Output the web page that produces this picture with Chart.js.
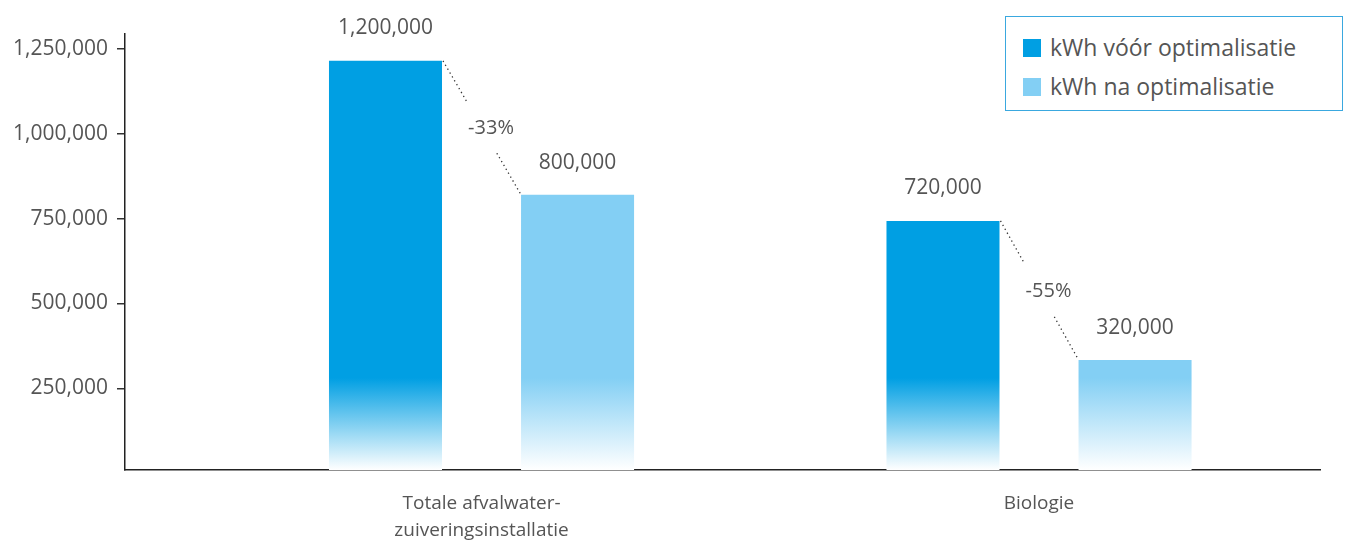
<!DOCTYPE html>
<html lang="nl">
<head>
<meta charset="UTF-8">
<title>kWh vóór en na optimalisatie</title>
<script src="https://cdn.jsdelivr.net/npm/chart.js"></script>
<style>
  body { margin: 0; background: #fff; font-family: 'Open Sans', sans-serif; }
  .wrap { position: relative; width: 1345px; height: 541px; }
  .legend {
    position: absolute; left: 1005px; top: 16px; width: 338px; height: 95px;
    box-sizing: border-box; border: 1.5px solid #3aa8df; background: #fff;
  }
  .legend .item { position: absolute; left: 17px; height: 20px; line-height: 20px; font-size: 23px; color: #555; white-space: nowrap; }
  .legend .sw { display: inline-block; width: 18px; height: 18px; vertical-align: middle; margin-right: 9px; position: relative; top: -2px; }
</style>
</head>
<body>
<div class="wrap">
  <canvas id="chart" width="1345" height="541"></canvas>
  <div class="legend" id="legend"></div>
</div>
<script>
// categorieën en waarden
const categories = [['Totale afvalwater-', 'zuiveringsinstallatie'], ['Biologie']];
const seriesNames = ['kWh vóór optimalisatie', 'kWh na optimalisatie'];
const voorValues = [1214000, 743000];
const naValues = [820000, 334000];
const voorLabels = ['1,200,000', '720,000'];
const naLabels = ['800,000', '320,000'];
const changeLabels = ['-33%', '-55%'];
const yTicks = [250000, 500000, 750000, 1000000, 1250000];

const colors = ['#009fe3', '#83cff4'];
const textColor = '#555';
const family = "'Open Sans', sans-serif";
const numFont = { family: family, size: 21 };
const catFont = { family: family, size: 19, lineHeight: 1.42 };

// onderkant van de balken loopt uit naar wit
function fade(color) {
    return (c) => {
        const a = c.chart.chartArea;
        if (!a) return color;
        const g = c.chart.ctx.createLinearGradient(0, a.bottom - 92, 0, a.bottom);
        g.addColorStop(0, color);
        g.addColorStop(1, '#ffffff');
        return g;
    };
}

// labels boven de balken en stippellijn met percentage
const annotations = {
    id: 'annotations',
    afterDatasetsDraw(chart) {
        const ctx = chart.ctx;
        const voor = chart.getDatasetMeta(0).data;
        const na = chart.getDatasetMeta(1).data;
        ctx.save();
        ctx.font = `${numFont.size}px ${family}`;
        ctx.fillStyle = textColor;
        ctx.textAlign = 'center';
        ctx.textBaseline = 'middle';
        voor.forEach((b, i) => ctx.fillText(voorLabels[i], b.x, b.y - 33));
        na.forEach((b, i) => ctx.fillText(naLabels[i], b.x, b.y - 32));

        ctx.font = `20px ${family}`;
        voor.forEach((b0, i) => {
            const b1 = na[i];
            const p = { x: b0.x + b0.width / 2 + 1, y: b0.y };
            const q = { x: b1.x - b1.width / 2, y: b1.y };
            const at = t => ({ x: p.x + (q.x - p.x) * t, y: p.y + (q.y - p.y) * t });
            ctx.strokeStyle = '#333';
            ctx.lineWidth = 1.3;
            ctx.setLineDash([1.3, 3.2]);
            [[0, 0.31], [0.69, 1]].forEach(([s, e]) => {
                const a = at(s), z = at(e);
                ctx.beginPath();
                ctx.moveTo(a.x, a.y);
                ctx.lineTo(z.x, z.y);
                ctx.stroke();
            });
            ctx.setLineDash([]);
            const m = at(0.5);
            ctx.fillText(changeLabels[i], m.x + 9, m.y + 1);
        });
        ctx.restore();
    }
};

new Chart(document.getElementById('chart'), {
    type: 'bar',
    data: {
        datasets: [
            {
                label: seriesNames[0],
                data: voorValues.map((v, i) => ({ x: i, y: v })),
                backgroundColor: fade(colors[0])
            },
            {
                label: seriesNames[1],
                data: naValues.map((v, i) => ({ x: i, y: v })),
                backgroundColor: fade(colors[1])
            }
        ]
    },
    options: {
        responsive: false,
        animation: false,
        categoryPercentage: 0.689,
        barPercentage: 0.5885,
        layout: { padding: { top: 34, right: 25, left: 0, bottom: 0 } },
        plugins: {
            legend: { display: false },
            tooltip: { enabled: false }
        },
        scales: {
            x: {
                type: 'linear',
                min: -0.6395,
                max: 1.504,
                offset: false,
                afterBuildTicks: s => { s.ticks = categories.map((c, i) => ({ value: i })); },
                afterFit: s => { s.height = 71; },
                ticks: {
                    callback: v => categories[v],
                    font: catFont,
                    color: textColor,
                    padding: 20,
                    maxRotation: 0
                },
                grid: { display: false, drawTicks: false },
                border: { display: true, color: '#222', width: 1.5 }
            },
            y: {
                min: 10000,
                max: 1293000,
                afterBuildTicks: s => { s.ticks = yTicks.map(v => ({ value: v })); },
                afterFit: s => { s.width = 125; },
                ticks: {
                    callback: v => v.toLocaleString('en-US'),
                    font: numFont,
                    color: textColor,
                    padding: 9
                },
                grid: { drawOnChartArea: false, tickLength: 8, color: '#333', lineWidth: 1.5 },
                border: { display: true, color: '#222', width: 1.5 }
            }
        }
    },
    plugins: [annotations]
});

// legenda
const legend = document.getElementById('legend');
seriesNames.forEach((name, i) => {
    const item = document.createElement('div');
    item.className = 'item';
    item.style.top = (i === 0 ? 20 : 59) + 'px';
    item.innerHTML = `<span class="sw" style="background:${colors[i]}"></span>${name}`;
    legend.appendChild(item);
});
</script>
</body>
</html>
